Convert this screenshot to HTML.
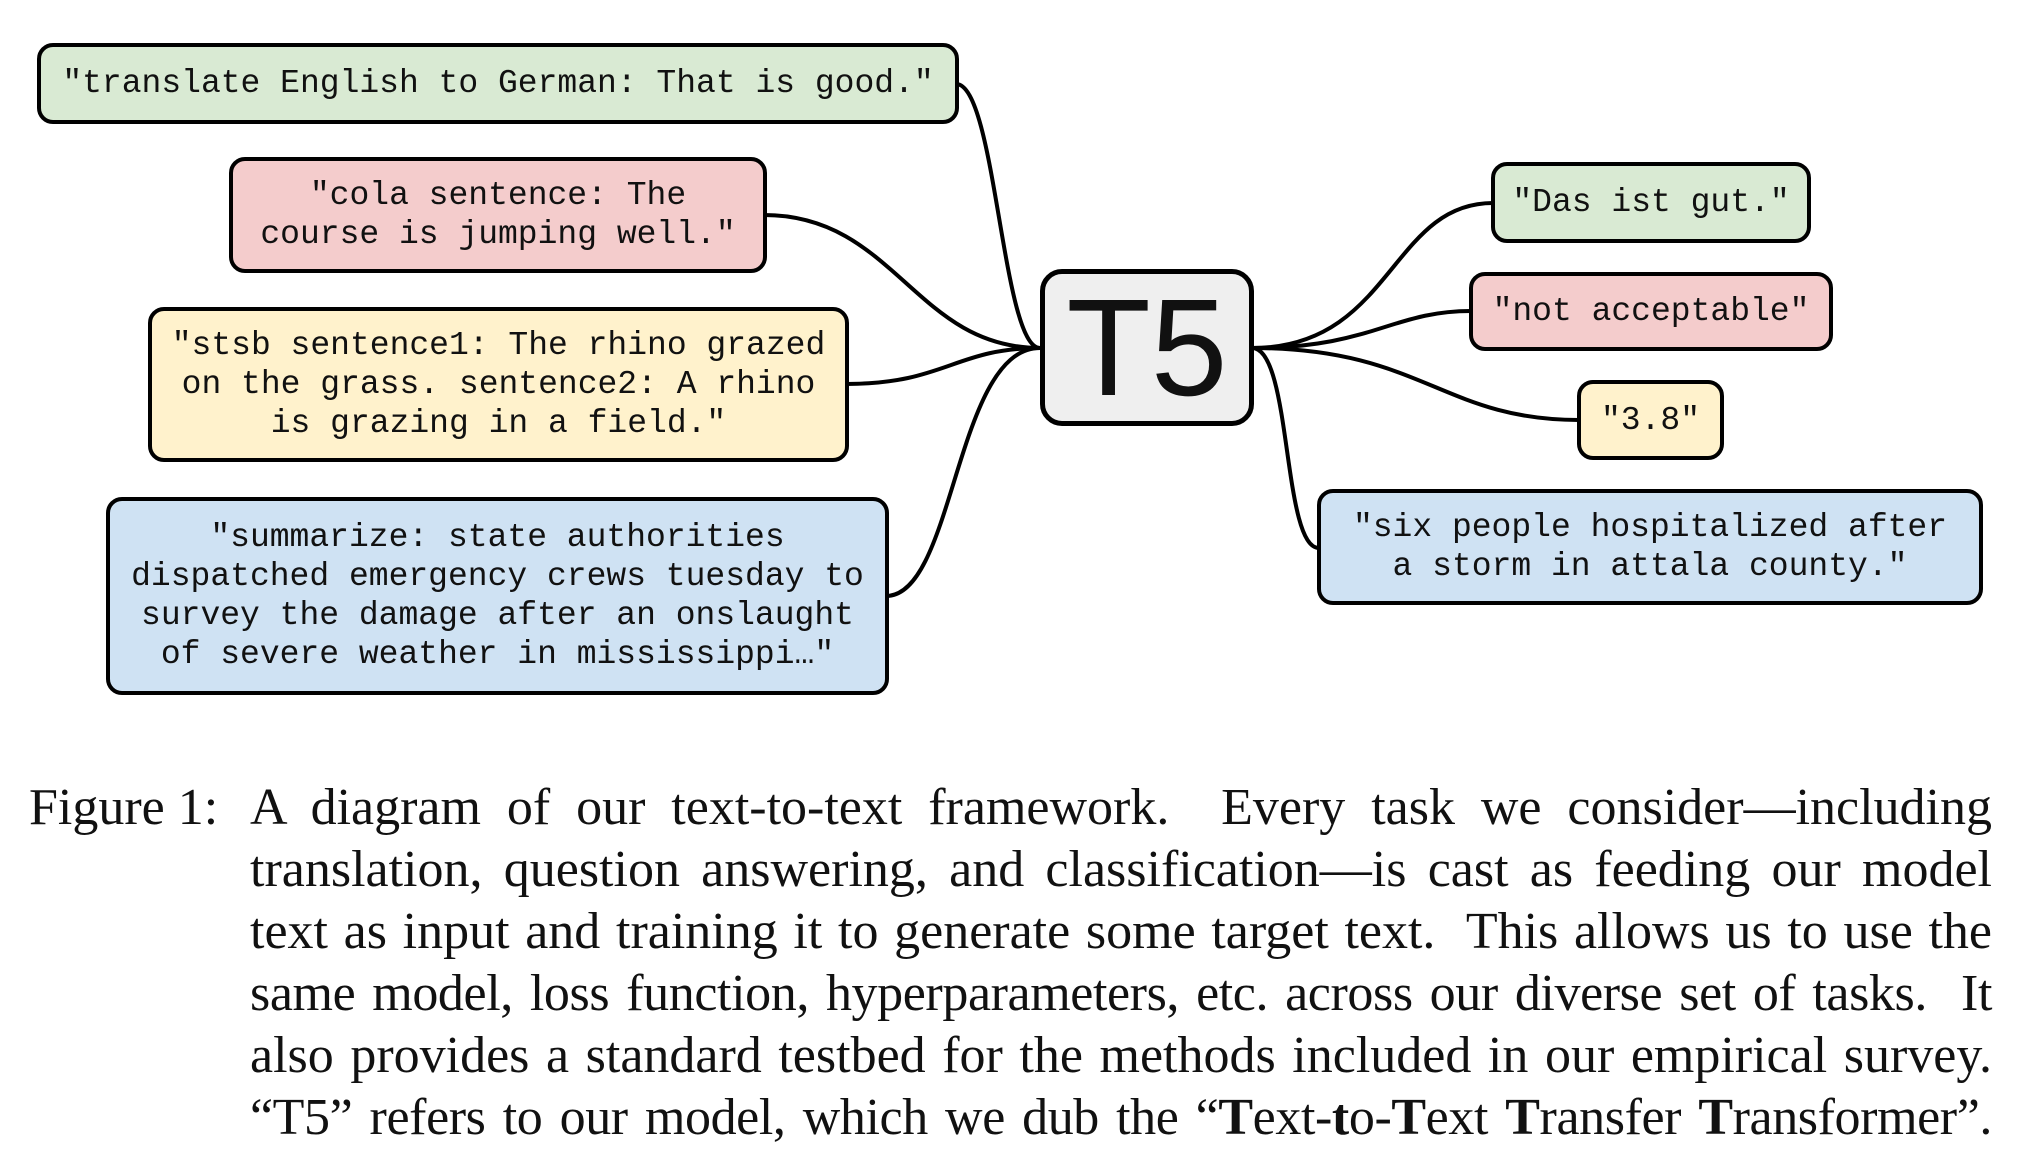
<!DOCTYPE html>
<html><head><meta charset="utf-8"><style>
html,body{margin:0;padding:0;background:#fff;}
body{width:2038px;height:1156px;position:relative;overflow:hidden;}
.b{position:absolute;box-sizing:border-box;border:4px solid #000;border-radius:16px;display:flex;align-items:center;justify-content:center;text-align:center;font-family:"Liberation Mono",monospace;font-size:33px;line-height:39px;color:#111;white-space:pre;}
.g{background:#d9ead3}.r{background:#f4cccc}.y{background:#fff2cc}.u{background:#cfe2f3}
.t5{background:#efefef;font-family:"Liberation Sans",sans-serif;font-size:138px;line-height:1;border-radius:22px;border-width:5px;white-space:nowrap}
.cap{position:absolute;left:29px;top:777px;width:1963px;font-family:"Liberation Serif",serif;font-size:52px;line-height:62px;color:#111;}
.row{display:flex}
.lab{width:221px;flex:none;white-space:nowrap}
.ln{flex:1;text-align:justify;text-align-last:justify;white-space:nowrap}
.tight{letter-spacing:-0.4px}
</style></head><body>
<svg width="2038" height="1156" style="position:absolute;left:0;top:0" fill="none" stroke="#000" stroke-width="4">
<path d="M956,84 C996,84 1002,348 1040,348"/>
<path d="M764,215 C895,215 915,348 1040,348"/>
<path d="M846,384 C945,384 955,348 1040,348"/>
<path d="M886,596 C955,596 955,348 1040,348"/>
<path d="M1252,348 C1392,348 1390,203 1493,203"/>
<path d="M1252,348 C1372,348 1392,311 1471,311"/>
<path d="M1252,348 C1422,348 1442,420 1579,420"/>
<path d="M1252,348 C1292,348 1282,548 1319,548"/>
</svg>
<div class="b g" style="left:37px;top:43px;width:922px;height:81px">"translate English to German: That is good."</div>
<div class="b r" style="left:229px;top:157px;width:538px;height:116px">"cola sentence: The
course is jumping well."</div>
<div class="b y" style="left:148px;top:307px;width:701px;height:155px">"stsb sentence1: The rhino grazed
on the grass. sentence2: A rhino
is grazing in a field."</div>
<div class="b u" style="left:106px;top:497px;width:783px;height:198px">"summarize: state authorities
dispatched emergency crews tuesday to
survey the damage after an onslaught
of severe weather in mississippi…"</div>
<div class="b t5" style="left:1040px;top:269px;width:214px;height:157px">T5</div>
<div class="b g" style="left:1491px;top:162px;width:320px;height:81px">"Das ist gut."</div>
<div class="b r" style="left:1469px;top:272px;width:364px;height:79px">"not acceptable"</div>
<div class="b y" style="left:1577px;top:380px;width:147px;height:80px">"3.8"</div>
<div class="b u" style="left:1317px;top:489px;width:666px;height:116px">"six people hospitalized after
a storm in attala county."</div>
<div class="cap">
<div class="row"><div class="lab">Figure 1:</div><div class="ln">A diagram of our text-to-text framework.&nbsp; Every task we consider—including</div></div>
<div class="row"><div class="lab"></div><div class="ln">translation, question answering, and classification—is cast as feeding our model</div></div>
<div class="row"><div class="lab"></div><div class="ln">text as input and training it to generate some target text.&nbsp; This allows us to use the</div></div>
<div class="row"><div class="lab"></div><div class="ln tight">same model, loss function, hyperparameters, etc. across our diverse set of tasks.&nbsp; It</div></div>
<div class="row"><div class="lab"></div><div class="ln">also provides a standard testbed for the methods included in our empirical survey.</div></div>
<div class="row"><div class="lab"></div><div class="ln tight">“T5” refers to our model, which we dub the “<b>T</b>ext-<b>t</b>o-<b>T</b>ext <b>T</b>ransfer <b>T</b>ransformer”.</div></div>
</div>
</body></html>
